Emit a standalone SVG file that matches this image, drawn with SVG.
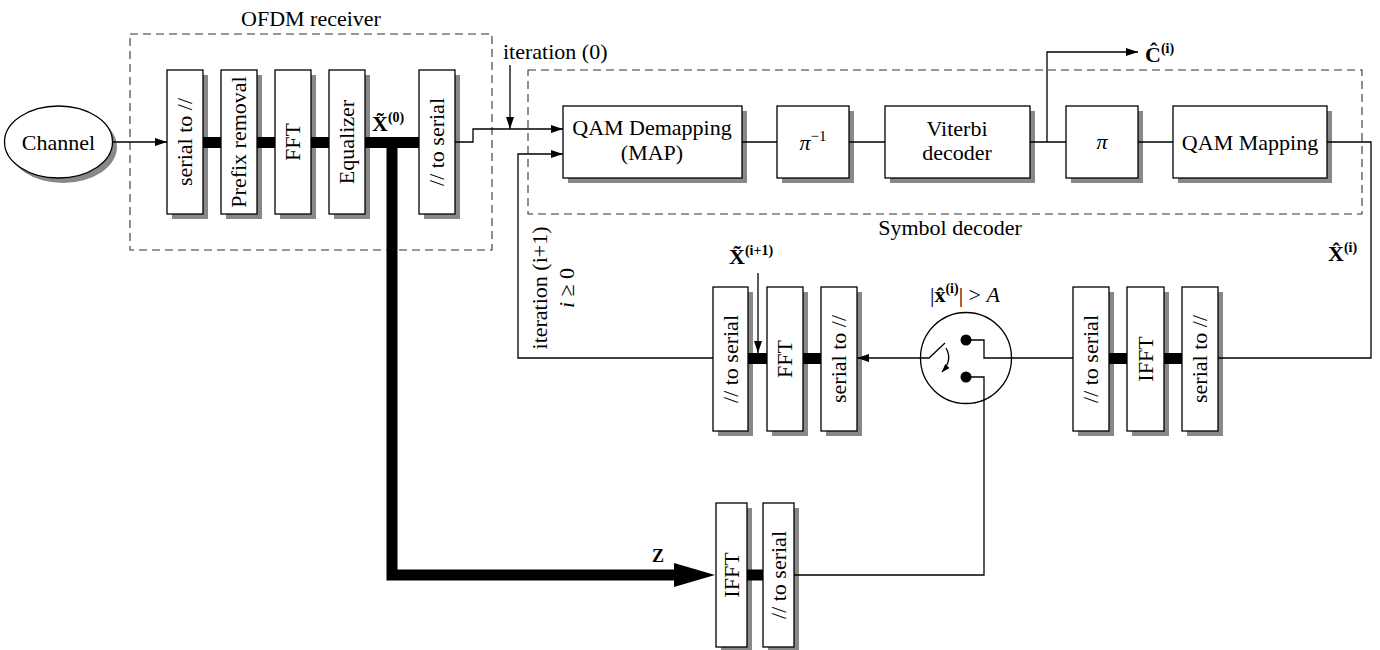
<svg xmlns="http://www.w3.org/2000/svg" width="1380" height="650" viewBox="0 0 1380 650" font-family="'Liberation Serif','Times New Roman',serif">
<defs>
<style>
text{font-family:"Liberation Serif","Times New Roman",serif;font-size:22px;fill:#000}
.box{fill:#fff;stroke:#000;stroke-width:1.3}
.sh{fill:#888}
.ln{fill:none;stroke:#000;stroke-width:1.3}
.bus{fill:none;stroke:#000;stroke-width:11}
.dash{fill:none;stroke:#333;stroke-width:1.1;stroke-dasharray:8 5}
.b{font-weight:bold}
.sup{font-size:14px;font-weight:bold}
.it{font-style:italic}
</style>
<marker id="ar" viewBox="0 0 12 8" refX="12" refY="4" markerWidth="12" markerHeight="8" markerUnits="userSpaceOnUse" orient="auto">
<path d="M0,0 L12,4 L0,8 Z" fill="#000"/>
</marker>
<marker id="ars" viewBox="0 0 8 6" refX="8" refY="3" markerWidth="8" markerHeight="6" markerUnits="userSpaceOnUse" orient="auto">
<path d="M0,0 L8,3 L0,6 Z" fill="#000"/>
</marker>
</defs>
<rect width="1380" height="650" fill="#fff"/>

<!-- containers -->
<g id="ofdm-receiver">
<rect class="dash" x="130" y="34" width="362" height="216"/>
<text x="311" y="26" text-anchor="middle">OFDM receiver</text>
</g>
<g id="symbol-decoder">
<rect class="dash" x="528" y="70" width="834" height="144"/>
<text x="950" y="235" text-anchor="middle">Symbol decoder</text>
</g>

<!-- nodes -->
<g id="channel">
<ellipse class="sh" cx="63" cy="147" rx="54" ry="36"/>
<ellipse class="box" cx="58.5" cy="142" rx="54" ry="36"/>
<text x="58.5" y="150" text-anchor="middle">Channel</text>
</g>
<g id="s2p1">
<rect class="sh" x="172" y="75" width="36" height="144"/>
<rect class="box" x="167" y="70" width="36" height="144"/>
<text transform="translate(185,142) rotate(-90)" y="7" text-anchor="middle">serial to //</text>
</g>
<g id="prefix">
<rect class="sh" x="226" y="75" width="36" height="144"/>
<rect class="box" x="221" y="70" width="36" height="144"/>
<text transform="translate(239,142) rotate(-90)" y="7" text-anchor="middle">Prefix removal</text>
</g>
<g id="fft1">
<rect class="sh" x="280" y="75" width="36" height="144"/>
<rect class="box" x="275" y="70" width="36" height="144"/>
<text transform="translate(293,142) rotate(-90)" y="7" text-anchor="middle">FFT</text>
</g>
<g id="equalizer">
<rect class="sh" x="334" y="75" width="36" height="144"/>
<rect class="box" x="329" y="70" width="36" height="144"/>
<text transform="translate(347,142) rotate(-90)" y="7" text-anchor="middle">Equalizer</text>
</g>
<g id="p2s1">
<rect class="sh" x="424" y="75" width="36" height="144"/>
<rect class="box" x="419" y="70" width="36" height="144"/>
<text transform="translate(437,142) rotate(-90)" y="7" text-anchor="middle">// to serial</text>
</g>

<g id="qam-demap">
<rect class="sh" x="568" y="111" width="179" height="72"/>
<rect class="box" x="563" y="106" width="179" height="72"/>
<text x="652" y="135" text-anchor="middle">QAM Demapping</text>
<text x="652" y="160" text-anchor="middle">(MAP)</text>
</g>
<g id="deinterleaver">
<rect class="sh" x="782" y="111" width="72" height="72"/>
<rect class="box" x="777" y="106" width="72" height="72"/>
<text x="813" y="150" text-anchor="middle"><tspan class="it">π</tspan><tspan font-size="15" dy="-9">−1</tspan></text>
</g>
<g id="viterbi">
<rect class="sh" x="890" y="111" width="145" height="72"/>
<rect class="box" x="885" y="106" width="145" height="72"/>
<text x="957" y="136" text-anchor="middle">Viterbi</text>
<text x="957" y="160" text-anchor="middle">decoder</text>
</g>
<g id="interleaver">
<rect class="sh" x="1071" y="111" width="72" height="72"/>
<rect class="box" x="1066" y="106" width="72" height="72"/>
<text x="1102" y="149" text-anchor="middle" class="it">π</text>
</g>
<g id="qam-map">
<rect class="sh" x="1178" y="111" width="154" height="72"/>
<rect class="box" x="1173" y="106" width="154" height="72"/>
<text x="1250" y="150" text-anchor="middle">QAM Mapping</text>
</g>

<g id="p2s2">
<rect class="sh" x="718" y="292" width="35" height="144"/>
<rect class="box" x="713" y="287" width="35" height="144"/>
<text transform="translate(730.5,359) rotate(-90)" y="7" text-anchor="middle">// to serial</text>
</g>
<g id="fft2">
<rect class="sh" x="772" y="292" width="36" height="144"/>
<rect class="box" x="767" y="287" width="36" height="144"/>
<text transform="translate(785,359) rotate(-90)" y="7" text-anchor="middle">FFT</text>
</g>
<g id="s2p2">
<rect class="sh" x="826" y="292" width="36" height="144"/>
<rect class="box" x="821" y="287" width="36" height="144"/>
<text transform="translate(839,359) rotate(-90)" y="7" text-anchor="middle">serial to //</text>
</g>

<g id="clipper">
<circle class="ln" cx="966" cy="358" r="45.5"/>
<circle cx="966" cy="340" r="5.5" fill="#000"/>
<circle cx="966" cy="377" r="5.5" fill="#000"/>
<path class="ln" d="M920,358 L929,358 L945,343"/>
<path class="ln" d="M946,348 Q953,360 942,372" marker-end="url(#ars)"/>
<text x="965" y="302" text-anchor="middle">|<tspan class="b">x̂</tspan><tspan class="sup" dy="-9">(i)</tspan><tspan dy="9">| &gt; </tspan><tspan class="it">A</tspan></text>
</g>

<g id="p2s3">
<rect class="sh" x="1078" y="292" width="36" height="144"/>
<rect class="box" x="1073" y="287" width="36" height="144"/>
<text transform="translate(1091,359) rotate(-90)" y="7" text-anchor="middle">// to serial</text>
</g>
<g id="ifft1">
<rect class="sh" x="1132" y="292" width="37" height="144"/>
<rect class="box" x="1127" y="287" width="37" height="144"/>
<text transform="translate(1145.5,359) rotate(-90)" y="7" text-anchor="middle">IFFT</text>
</g>
<g id="s2p3">
<rect class="sh" x="1187" y="292" width="36" height="144"/>
<rect class="box" x="1182" y="287" width="36" height="144"/>
<text transform="translate(1200,359) rotate(-90)" y="7" text-anchor="middle">serial to //</text>
</g>

<g id="ifft2">
<rect class="sh" x="721" y="508" width="31" height="144"/>
<rect class="box" x="716" y="503" width="31" height="144"/>
<text transform="translate(731.5,575) rotate(-90)" y="7" text-anchor="middle">IFFT</text>
</g>
<g id="p2s4">
<rect class="sh" x="768" y="508" width="31" height="144"/>
<rect class="box" x="763" y="503" width="31" height="144"/>
<text transform="translate(778.5,575) rotate(-90)" y="7" text-anchor="middle">// to serial</text>
</g>

<!-- connectors -->
<g id="connectors">
<line class="ln" x1="113" y1="142" x2="167" y2="142" marker-end="url(#ar)"/>
<path class="bus" d="M203,142.5 H221 M257,142.5 H275 M311,142.5 H329 M365,142.5 H419"/>
<path class="bus" d="M392,142.5 V575 H676" stroke-linejoin="miter"/>
<path d="M674,563 L715,575 L674,587 Z" fill="#000"/>
<path class="ln" d="M455,142 H473 V129 H563" marker-end="url(#ar)"/>
<line class="ln" x1="510" y1="65" x2="510" y2="129" marker-end="url(#ar)"/>
<path class="ln" d="M713,358 H518 V154 H563" marker-end="url(#ar)"/>
<path class="ln" d="M742,142 H777 M849,142 H885 M1030,142 H1066 M1138,142 H1173"/>
<path class="ln" d="M1047,142 V52 H1138" marker-end="url(#ar)"/>
<path class="ln" d="M1327,142 H1371 V358 H1218"/>
<path class="bus" d="M748,358.5 H767 M803,358.5 H821 M1109,358.5 H1127 M1164,358.5 H1182 M747,575 H763"/>
<line class="ln" x1="758" y1="273" x2="758" y2="353" marker-end="url(#ar)"/>
<line class="ln" x1="920" y1="358" x2="857" y2="358" marker-end="url(#ar)"/>
<path class="ln" d="M1073,358 H984 V340 H966"/>
<path class="ln" d="M966,377 H984 V575 H794"/>
</g>

<!-- labels -->
<g id="labels">
<text x="372" y="131"><tspan class="b">X̃</tspan><tspan class="sup" dy="-9">(0)</tspan></text>
<text x="503" y="59">iteration (0)</text>
<text x="1145" y="62"><tspan class="b">Ĉ</tspan><tspan class="sup" dy="-9">(i)</tspan></text>
<text x="1328" y="261"><tspan class="b">X̂</tspan><tspan class="sup" dy="-9">(i)</tspan></text>
<text x="729" y="264"><tspan class="b">X̃</tspan><tspan class="sup" dy="-9">(i+1)</tspan></text>
<text transform="translate(547,288) rotate(-90)" text-anchor="middle">iteration (i+1)</text>
<text transform="translate(574,288) rotate(-90)" text-anchor="middle"><tspan class="it">i</tspan> ≥ 0</text>
<text x="652" y="562" class="b" style="font-size:18px">Z</text>
</g>
</svg>
